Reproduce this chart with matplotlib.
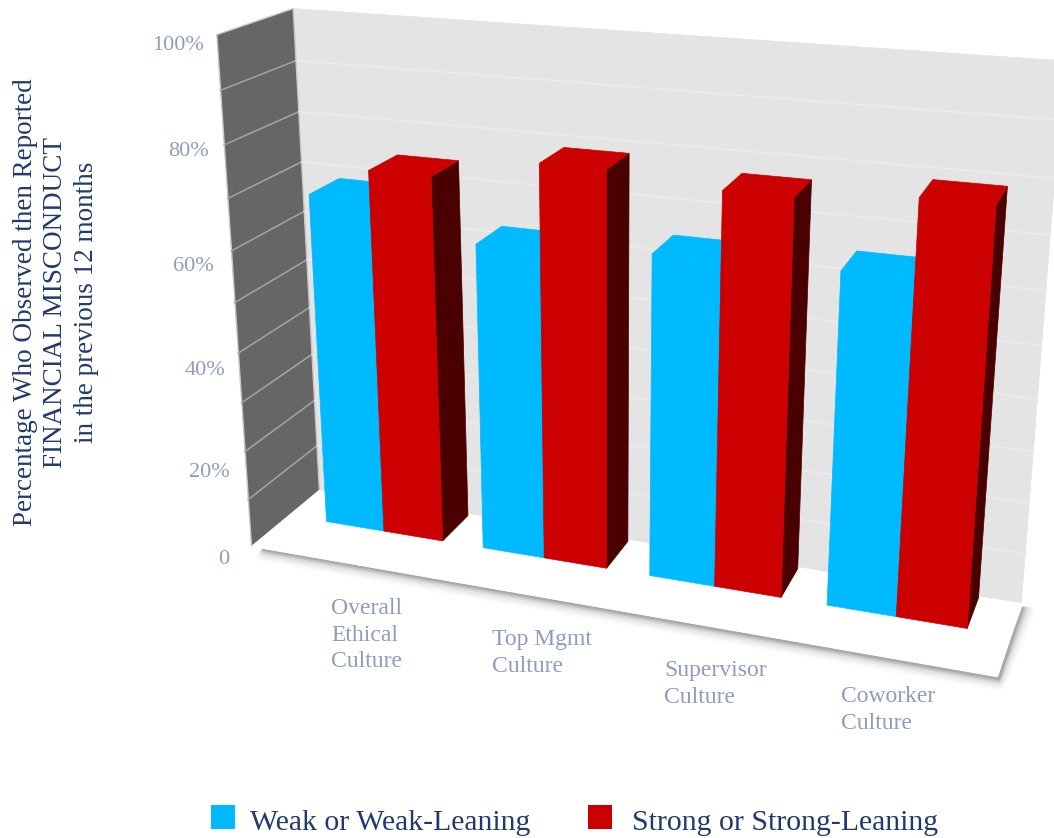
import numpy as np
import matplotlib
matplotlib.use("Agg")
import matplotlib.pyplot as plt
from matplotlib.patches import Polygon, Rectangle

categories = ["Overall\nEthical\nCulture", "Top Mgmt\nCulture", "Supervisor\nCulture", "Coworker\nCulture"]
weak = [67.6, 61.4, 63.2, 63.8]
strong = [73.4, 77.8, 76.0, 78]
series_names = ["Weak or Weak-Leaning", "Strong or Strong-Leaning"]
tick_values = [0, 20, 40, 60, 80, 100]
tick_labels = ["0", "20%", "40%", "60%", "80%", "100%"]
y_title = "Percentage Who Observed then Reported\nFINANCIAL MISCONDUCT\nin the previous 12 months"

# layout
W, H = 1054, 838
BLUE, RED, DARK = "#00BAFF", "#CC0000", "#4A0000"
TICK = "#8F9DBB"
NAVY = "#1F3A6E"
FONT = "Liberation Serif"
GROUP0, PERIOD, BAR_W = 0.147, 0.237, 0.0885
Z0, Z1 = 0.54, 0.98
tick_xy = [(229, 559), (230, 472), (225, 370), (214, 266), (209, 152), (204, 46)]
cat_xy = [(331, 635), (492, 653), (664, 684), (841, 710)]

# perspective camera calibrated on the chart box corners (x 0-1, value 0-100, depth 0-1)
box = [((0, 0, 0), (252, 546)), ((1, 0, 0), (997, 678)), ((0, 0, 1), (319, 491)),
       ((1, 0, 1), (1022, 602)), ((0, 100, 0), (217, 34)), ((0, 100, 1), (293, 9)),
       ((1, 100, 1), (1064, 61))]
A, b = [], []
for (x, v, z), (px, py) in box:
    y = v / 100
    A.append([x, y, z, 1, 0, 0, 0, 0, -px * x, -px * y, -px * z]); b.append(px)
    A.append([0, 0, 0, 0, x, y, z, 1, -py * x, -py * y, -py * z]); b.append(py)
sol = np.linalg.lstsq(np.array(A, float), np.array(b, float), rcond=None)[0]
P = np.append(sol, 1).reshape(3, 4)


def proj(x, v, z):
    q = P @ np.array([x, v / 100, z, 1.0])
    return q[0] / q[2], q[1] / q[2]


def face(pts, color, zorder=2, **kw):
    ax.add_patch(Polygon([proj(*p) for p in pts], closed=True, facecolor=color,
                         edgecolor=kw.pop("edgecolor", color), linewidth=kw.pop("linewidth", 0.5), zorder=zorder, **kw))


fig = plt.figure(figsize=(W / 100, H / 100), dpi=100)
ax = fig.add_axes([0, 0, 1, 1])
ax.set_xlim(0, W)
ax.set_ylim(H, 0)
ax.axis("off")

# floor shadow
edge = [proj(0.01, 0, 0), proj(1, 0, 0), proj(1, 0, 0.97)]
for off, lw, al in [(7, 10, 0.02), (6, 8, 0.035), (5, 6, 0.055), (4, 4, 0.085), (3, 3, 0.125), (2, 2, 0.17)]:
    xs = [edge[0][0] + 6, edge[1][0] + 1, edge[2][0] + off]
    ys = [edge[0][1] + off, edge[1][1] + off, edge[2][1] + off]
    ax.plot(xs, ys, color="#303030", lw=lw, alpha=al, zorder=0.5, solid_capstyle="round", solid_joinstyle="round")

# walls and floor
face([(0, 0, 1), (1, 0, 1), (1, 100, 1), (0, 100, 1)], "#E4E4E4", zorder=1)
face([(0, 0, 0), (0, 0, 1), (0, 100, 1), (0, 100, 0)], "#666666", zorder=1, edgecolor="#C8C8C8", linewidth=1)
face([(0, 0, 0), (1, 0, 0), (1, 0, 1), (0, 0, 1)], "#FFFFFF", zorder=1)
for g in range(10, 100, 10):
    a, c, d = proj(0, g, 0), proj(0, g, 1), proj(1, g, 1)
    ax.plot([a[0], c[0]], [a[1], c[1]], color="#A0A0A0", lw=1.2, zorder=1.5)
    ax.plot([c[0], d[0]], [c[1], d[1]], color="#ECECEC", lw=1.1, zorder=1.5)

# bars
for i in range(len(categories)):
    c = GROUP0 + PERIOD * i
    for x0, val, col in [(c - BAR_W, weak[i], BLUE), (c, strong[i], RED)]:
        x1 = x0 + BAR_W
        face([(x1, 0, Z0), (x1, 0, Z1), (x1, val, Z1), (x1, val, Z0)], DARK, zorder=2 + i)
        face([(x0, val, Z0), (x1, val, Z0), (x1, val, Z1), (x0, val, Z1)], col, zorder=2 + i)
        face([(x0, 0, Z0), (x1, 0, Z0), (x1, val, Z0), (x0, val, Z0)], col, zorder=2 + i)

# text
for (tx, ty), lab in zip(tick_xy, tick_labels):
    ax.text(tx, ty, lab, ha="right", va="center", fontsize=16, color=TICK, family=FONT)
for (tx, ty), lab in zip(cat_xy, categories):
    ax.text(tx, ty, lab, ha="left", va="center", fontsize=17, color=TICK, family=FONT, linespacing=1.36)
ax.text(56, 302, y_title, rotation=90, ha="center", va="center", multialignment="center",
        fontsize=19.5, color=NAVY, family=FONT, linespacing=1.31)

# legend
for sx, tx, col, name in [(211, 250, BLUE, series_names[0]), (588, 632, RED, series_names[1])]:
    ax.add_patch(Rectangle((sx, 805), 24, 24, facecolor=col, edgecolor="none", zorder=5))
    ax.text(tx, 823, name, ha="left", va="center", fontsize=21.4, color=NAVY, family=FONT)

fig.savefig("out.png", dpi=100)
